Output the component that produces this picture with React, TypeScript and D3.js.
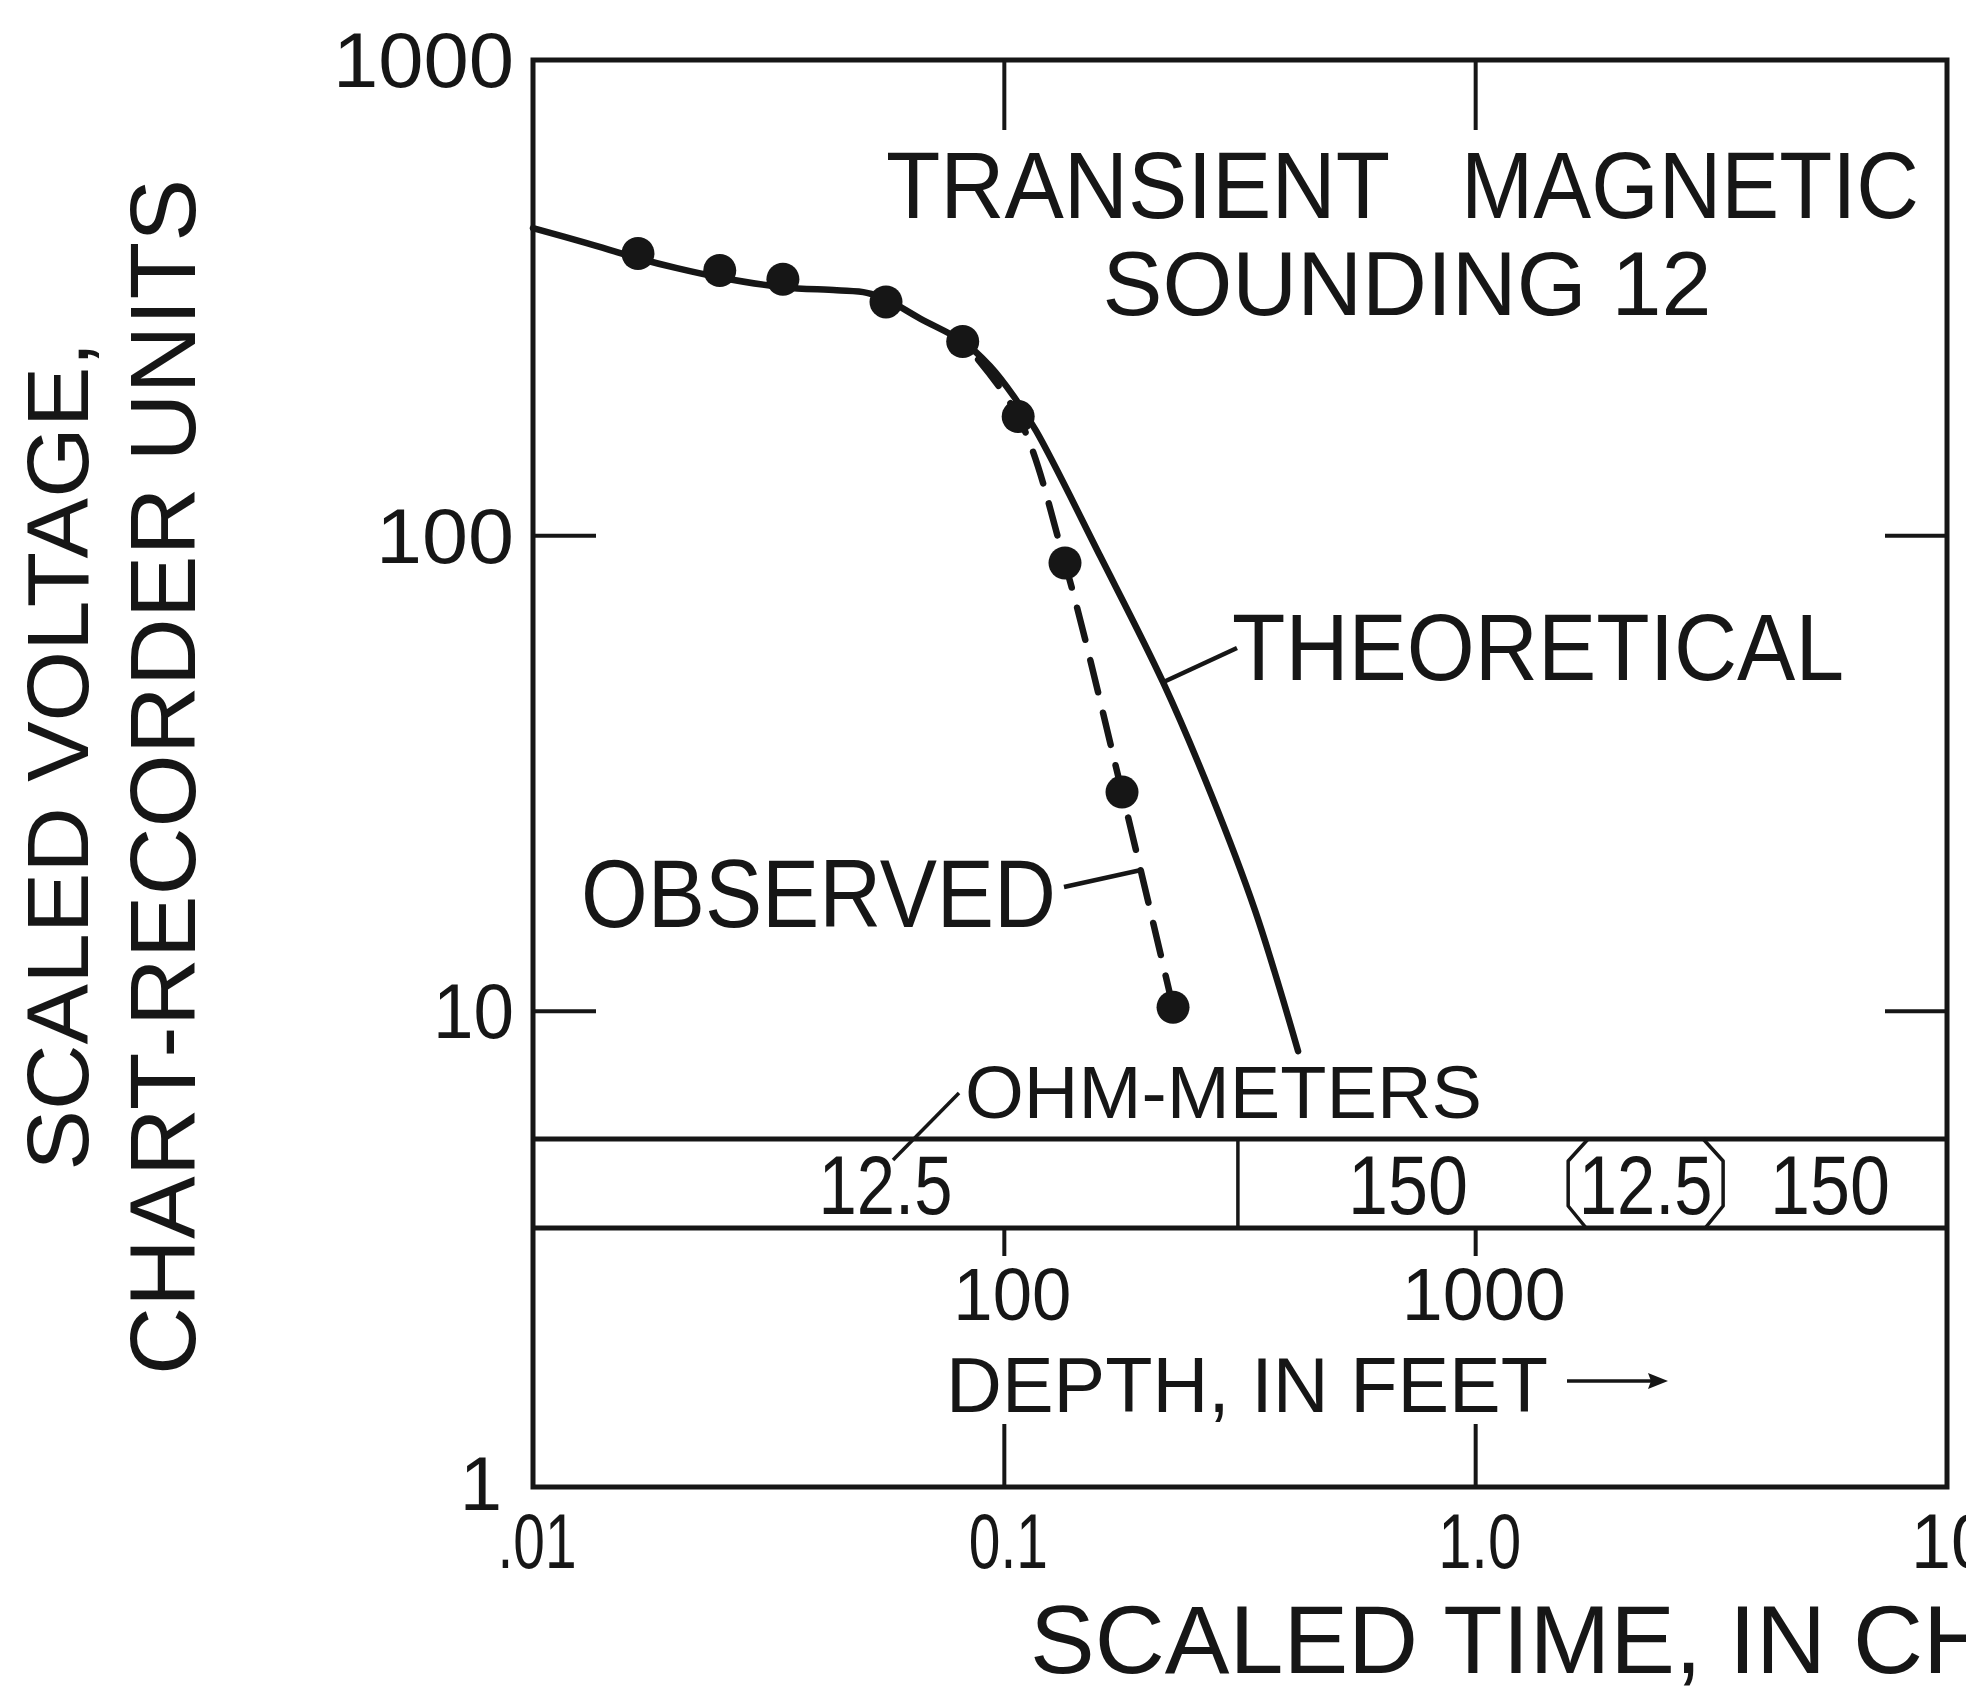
import * as d3 from "d3";

// Transient magnetic sounding 12: scaled voltage vs scaled time (log-log)
const W = 1966;
const H = 1691;

// observed points (scaled time, scaled voltage)
const observedTime = [0.0167, 0.0249, 0.0339, 0.0561, 0.0816, 0.107, 0.1345, 0.1777, 0.228];
const observedVolt = [392, 361, 346, 310, 256, 178, 87.6, 28.9, 10.2];
const dashedFrom = 4; // observed curve drawn dashed from this point on

// theoretical curve
const theoryTime = [
  0.01, 0.013, 0.0167, 0.0202, 0.0249, 0.0339, 0.0441, 0.0511, 0.0561, 0.0663, 0.0816,
  0.0933, 0.1048, 0.1168, 0.1597, 0.2171, 0.2746, 0.3403, 0.42,
];
const theoryVolt = [
  443, 412, 383, 365, 349, 333, 328, 324, 314, 286, 256, 227, 196, 166, 90.6, 49.2, 28.6,
  16.3, 8.25,
];

const xTicks = [0.01, 0.1, 1, 10];
const xTickLabels = [".01", "0.1", "1.0", "10"];
const yTicks = [1, 10, 100, 1000];
const yTickLabels = ["1", "10", "100", "1000"];

// resistivity layers (ohm-meters) by depth in feet
const layerTops = [10, 313, 1650, 3190];
const layerBottoms = [313, 1650, 3190, 10000];
const layerRho = ["12.5", "150", "12.5", "150"];
const depthTicks = [100, 1000];
const depthTickLabels = ["100", "1000"];

const FONT = "'Liberation Sans', Arial, Helvetica, sans-serif";
const INK = "#161616";

const left = 533;
const right = 1947;
const top = 60;
const bottom = 1487;
const bandTop = 1139;
const bandBottom = 1228;

const x = d3.scaleLog().domain([0.01, 10]).range([left, right]);
const y = d3.scaleLog().domain([1, 1000]).range([bottom, top]);
const depth = d3.scaleLog().domain([10, 10000]).range([left, right]);

type TxtProps = {
  x: number;
  y: number;
  size: number;
  len?: number;
  anchor?: "start" | "middle" | "end";
  transform?: string;
  spacing?: number;
  children: string;
};

function Txt({ x, y, size, len, anchor = "start", transform, spacing, children }: TxtProps) {
  return (
    <text
      x={x}
      y={y}
      fontSize={size}
      fontFamily={FONT}
      fill={INK}
      textAnchor={anchor}
      transform={transform}
      letterSpacing={spacing}
      textLength={len}
      lengthAdjust={len ? "spacingAndGlyphs" : undefined}
    >
      {children}
    </text>
  );
}

export default function App() {
  const theory: [number, number][] = theoryTime.map((t, i) => [t, theoryVolt[i]]);
  const observed: [number, number][] = observedTime.map((t, i) => [t, observedVolt[i]]);

  const line = d3
    .line<[number, number]>()
    .x((d) => x(d[0]))
    .y((d) => y(d[1]))
    .curve(d3.curveCatmullRom.alpha(0.5));

  const theoryPath = line(theory) || "";
  const observedPath = line(observed.slice(dashedFrom)) || "";

  // leader anchors on the curves, in data units
  const thAnchor: [number, number] = [0.2171, 49.2];
  const obAnchor: [number, number] = [0.194, 19.8];

  const xLabelLen = [79, 79, 83, 80];
  const yLabelLen = [0, 81, 138, 181];

  return (
    <svg
      width={W}
      height={H}
      viewBox={`0 0 ${W} ${H}`}
      style={{ position: "absolute", left: 0, top: 0, background: "#fff", display: "block" }}
    >
      <rect x={0} y={0} width={W} height={H} fill="#fff" />

      {/* frame */}
      <rect
        x={left}
        y={top}
        width={right - left}
        height={bottom - top}
        fill="none"
        stroke={INK}
        strokeWidth={5}
      />

      {/* inner ticks */}
      {yTicks.slice(1, -1).map((v) => (
        <g key={"yt" + v} stroke={INK} strokeWidth={4}>
          <line x1={left} x2={left + 63} y1={y(v)} y2={y(v)} />
          <line x1={right - 62} x2={right} y1={y(v)} y2={y(v)} />
        </g>
      ))}
      {xTicks.slice(1, -1).map((v) => (
        <g key={"xt" + v} stroke={INK} strokeWidth={4}>
          <line x1={x(v)} x2={x(v)} y1={top} y2={top + 70} />
          <line x1={x(v)} x2={x(v)} y1={bottom - 63} y2={bottom} />
        </g>
      ))}

      {/* tick labels */}
      {yTicks.map((v, i) =>
        v === 1 ? (
          <Txt key={"yl" + v} x={502} y={1510} size={76} anchor="end">
            {yTickLabels[i]}
          </Txt>
        ) : (
          <Txt key={"yl" + v} x={514} y={y(v) + 27} size={77} anchor="end" len={yLabelLen[i]}>
            {yTickLabels[i]}
          </Txt>
        )
      )}
      {xTicks.map((v, i) => (
        <Txt key={"xl" + v} x={x(v) + 4} y={1568} size={77} anchor="middle" len={xLabelLen[i]}>
          {xTickLabels[i]}
        </Txt>
      ))}

      {/* axis titles */}
      <Txt x={0} y={0} size={88} anchor="middle" len={829} transform="translate(88,756) rotate(-90)">
        SCALED VOLTAGE,
      </Txt>
      <Txt x={0} y={0} size={92} anchor="middle" len={1196} transform="translate(195,777) rotate(-90)">
        CHART-RECORDER UNITS
      </Txt>
      <Txt x={1030} y={1673} size={97}>
        SCALED TIME, IN CHART-RECORDER UNITS
      </Txt>

      {/* title */}
      <Txt x={886} y={218} size={95} len={504}>
        TRANSIENT
      </Txt>
      <Txt x={1461} y={218} size={95} len={458}>
        MAGNETIC
      </Txt>
      <Txt x={1407} y={315} size={91} anchor="middle" len={609}>
        SOUNDING 12
      </Txt>

      {/* curves */}
      <path d={theoryPath} fill="none" stroke={INK} strokeWidth={6.5} strokeLinecap="round" />
      <path
        d={observedPath}
        fill="none"
        stroke={INK}
        strokeWidth={6.5}
        strokeDasharray="33 21"
        strokeDashoffset={-24}
        strokeLinecap="round"
      />
      {observed.map((d, i) => (
        <circle key={"ob" + i} cx={x(d[0])} cy={y(d[1])} r={16.5} fill={INK} />
      ))}

      {/* curve labels */}
      <line
        x1={x(thAnchor[0])}
        y1={y(thAnchor[1])}
        x2={1237}
        y2={648}
        stroke={INK}
        strokeWidth={4.5}
      />
      <Txt x={1232} y={680} size={95} len={612}>
        THEORETICAL
      </Txt>
      <line
        x1={x(obAnchor[0])}
        y1={y(obAnchor[1])}
        x2={1064}
        y2={887}
        stroke={INK}
        strokeWidth={4.5}
      />
      <Txt x={581} y={927} size={96} len={475}>
        OBSERVED
      </Txt>

      {/* resistivity band */}
      <Txt x={965} y={1118} size={74} len={517}>
        OHM-METERS
      </Txt>
      <line x1={959} y1={1093} x2={893} y2={1160} stroke={INK} strokeWidth={3.5} />
      <g stroke={INK} strokeWidth={5}>
        <line x1={left} x2={right} y1={bandTop} y2={bandTop} />
        <line x1={left} x2={right} y1={bandBottom} y2={bandBottom} />
      </g>
      {layerTops.slice(1).map((d, i) => {
        const bx = depth(d);
        if (i === 0) {
          return (
            <line key={"lb" + d} x1={bx} x2={bx} y1={bandTop} y2={bandBottom} stroke={INK} strokeWidth={3.5} />
          );
        }
        // thin layer drawn as a bracket on each side
        const s = i === 1 ? 1 : -1;
        const pts: [number, number][] = [
          [bx + 10 * s, bandTop],
          [bx - 10 * s, bandTop + 22],
          [bx - 10 * s, bandBottom - 22],
          [bx + 8 * s, bandBottom],
        ];
        return (
          <path
            key={"lb" + d}
            d={d3.line()(pts) || ""}
            fill="none"
            stroke={INK}
            strokeWidth={3.5}
            strokeLinejoin="round"
          />
        );
      })}
      {layerRho.map((r, i) => {
        const cx = depth(Math.sqrt(layerTops[i] * layerBottoms[i]));
        return (
          <Txt key={"rho" + i} x={cx} y={1214} size={83} anchor="middle" len={r.length === 4 ? 134 : 120}>
            {r}
          </Txt>
        );
      })}

      {/* depth scale */}
      {depthTicks.map((d, i) => (
        <g key={"dt" + d}>
          <line x1={depth(d)} x2={depth(d)} y1={bandBottom} y2={bandBottom + 28} stroke={INK} strokeWidth={4} />
          <Txt x={depth(d) + 8} y={1320} size={74} anchor="middle" len={d === 100 ? 118 : 164}>
            {depthTickLabels[i]}
          </Txt>
        </g>
      ))}
      <Txt x={946} y={1412} size={77} len={602}>
        DEPTH, IN FEET
      </Txt>
      <line x1={1567} x2={1652} y1={1381} y2={1381} stroke={INK} strokeWidth={3.5} />
      <path d="M1668,1381 L1648,1373 L1651,1381 L1648,1389 Z" fill={INK} />
    </svg>
  );
}
